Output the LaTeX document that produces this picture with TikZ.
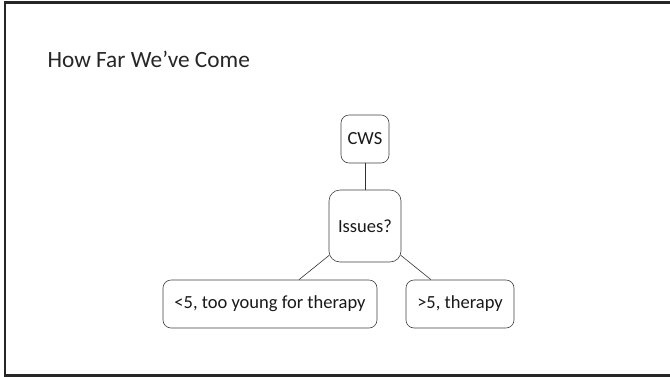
\documentclass[tikz,border=0pt]{standalone}
\usepackage{fontspec}
\setmainfont{Carlito}
\usetikzlibrary{calc}
\begin{document}
\begin{tikzpicture}[x=1pt,y=-1pt,
  box/.style={draw=black!75,line width=0.6pt,rounded corners=8pt,fill=white,inner sep=0pt,font=\fontsize{18.5}{22}\selectfont,text=black!90},
  link/.style={draw=black!80,line width=0.6pt}]
\useasboundingbox (0,0) rectangle (670,376);
\draw[line width=2.2pt,black!85] (672,2.5) -- (5,2.5) -- (5,375.5) -- (672,375.5);
\node[anchor=base west,font=\fontsize{23.3}{28}\selectfont,text=black!85] (title) at (44,67) {How Far We’ve Come};
\node[box,minimum width=48pt,minimum height=48pt] (cws) at (365,139) {CWS};
\node[box,minimum width=72pt,minimum height=72pt,rounded corners=11pt] (iss) at (365,226) {Issues?};
\node[box,minimum width=214pt,minimum height=48pt] (l) at (270,304) {<5, too young for therapy};
\node[box,minimum width=108pt,minimum height=48pt] (r) at (460,304) {>5, therapy};
\coordinate (il) at ($(iss.south west)+(0.5,-7)$);
\coordinate (ir) at ($(iss.south east)+(-0.5,-7)$);
\coordinate (lt) at ($(l.north)+(29,0)$);
\coordinate (rt) at ($(r.north)+(-29,0)$);
\draw[link] (cws.south) -- (iss.north);
\draw[link] (il) -- (lt);
\draw[link] (ir) -- (rt);
\end{tikzpicture}
\end{document}
